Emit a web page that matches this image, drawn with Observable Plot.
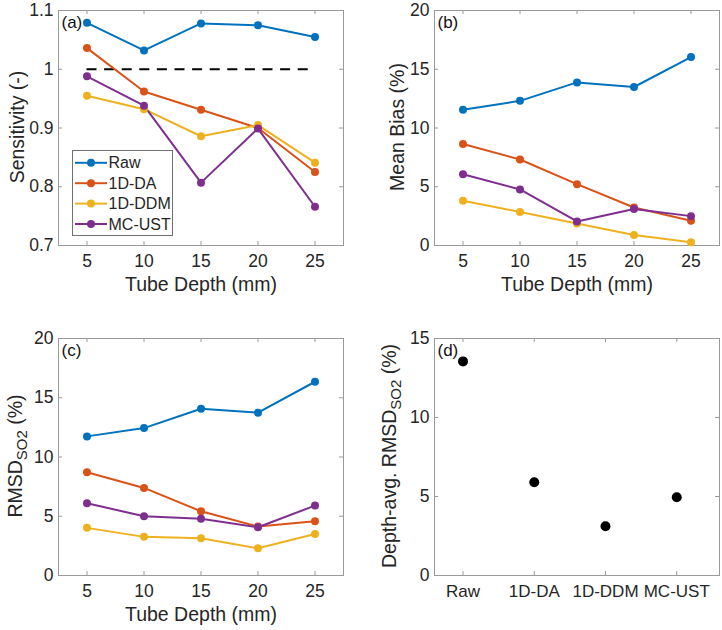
<!DOCTYPE html>
<html><head><meta charset="utf-8">
<script src="https://cdn.jsdelivr.net/npm/d3@7"></script>
<script src="https://cdn.jsdelivr.net/npm/@observablehq/plot@0.6"></script>
<style>
body{margin:0;background:#fff;}
#wrap{position:relative;width:722px;height:630px;background:#fff;}
#wrap > svg{position:absolute;overflow:visible;}
</style></head><body><div id="wrap"></div>
<script>
// ---------- data ----------
const depths = [5, 10, 15, 20, 25];
const methods = ["Raw", "1D-DA", "1D-DDM", "MC-UST"];
const colors = ["#0072BD", "#D95319", "#EDB120", "#7E2F8E"];

// (a) Sensitivity (-)
const sensRaw  = [1.079, 1.032, 1.078, 1.075, 1.055];
const sensDA   = [1.036, 0.962, 0.931, 0.900, 0.825];
const sensDDM  = [0.955, 0.932, 0.886, 0.905, 0.841];
const sensMC   = [0.988, 0.938, 0.807, 0.899, 0.766];
const sensRef  = [1];

// (b) Mean Bias (%)
const biasRaw  = [11.56, 12.31, 13.88, 13.49, 16.04];
const biasDA   = [8.64, 7.32, 5.22, 3.23, 2.10];
const biasDDM  = [3.81, 2.86, 1.88, 0.90, 0.28];
const biasMC   = [6.06, 4.77, 2.05, 3.11, 2.50];

// (c) RMSD SO2 (%)
const rmsdRaw  = [11.74, 12.44, 14.07, 13.74, 16.35];
const rmsdDA   = [8.71, 7.39, 5.42, 4.13, 4.58];
const rmsdDDM  = [4.02, 3.26, 3.15, 2.30, 3.51];
const rmsdMC   = [6.10, 5.00, 4.78, 4.07, 5.90];

// (d) Depth-avg. RMSD SO2 (%)
const avgRmsd  = [13.55, 5.90, 3.12, 4.95];

// tick values / labels
const depthTicks = [5, 10, 15, 20, 25];
const sensTicks = [0.7, 0.8, 0.9, 1, 1.1];
const sensTickLabels = ["0.7", "0.8", "0.9", "1", "1.1"];
const pctTicks20 = [0, 5, 10, 15, 20];
const pctTicks15 = [0, 5, 10, 15];
const methodTicks = [1, 2, 3, 4];

// ---------- helpers ----------
const FONT = "'Liberation Sans', Arial, Helvetica, sans-serif";
const TXT = "#262626";
const BOX = "#9a9a9a";
const TL = 4;
const W = 361, H = 315;
const TICKFS = 17.5;

function tidy(series) {
  const out = [];
  series.forEach((vals, i) => vals.forEach((v, j) => out.push({method: methods[i], depth: depths[j], value: v})));
  return out;
}

function boxTicks(xt, yt, fw, fh) {
  return [
    Plot.tickX(xt, {x: d => d, insetTop: fh - TL, stroke: BOX}),
    Plot.tickX(xt, {x: d => d, insetBottom: fh - TL, stroke: BOX}),
    Plot.tickY(yt, {y: d => d, insetRight: fw - TL, stroke: BOX}),
    Plot.tickY(yt, {y: d => d, insetLeft: fw - TL, stroke: BOX})
  ];
}

function addYLabel(svg, parts, cx, cy) {
  const t = d3.select(svg).append("text")
    .attr("transform", `translate(${cx},${cy}) rotate(-90)`)
    .attr("text-anchor", "middle")
    .attr("font-family", FONT)
    .attr("font-size", 19.5)
    .attr("fill", TXT)
    .attr("dy", "0.35em");
  let shifted = 0;
  parts.forEach(p => {
    const s = t.append("tspan").text(p.t);
    if (p.sub) { s.attr("font-size", 15).attr("dy", 5); shifted = 5; }
    else if (shifted) { s.attr("dy", -shifted); shifted = 0; }
  });
}

function linePanel({data, yDomain, yTicks, yTickFormat, ml, mr, mt, mb, tag, extra = []}) {
  const fw = W - ml - mr, fh = H - mt - mb;
  return Plot.plot({
    width: W, height: H,
    marginLeft: ml, marginRight: mr, marginTop: mt, marginBottom: mb,
    style: {fontFamily: FONT, fontSize: TICKFS + "px", color: TXT, background: "transparent", overflow: "visible"},
    x: {domain: [2.5, 27.5], label: null},
    y: {domain: yDomain, label: null},
    color: {domain: methods, range: colors},
    marks: [
      Plot.frame({stroke: BOX}),
      ...boxTicks(depthTicks, yTicks, fw, fh),
      Plot.axisX(depthTicks, {tickSize: 0, tickPadding: 9, label: null, fontSize: TICKFS, fill: TXT}),
      Plot.axisY(yTicks, {tickSize: 0, tickPadding: 5, label: null, fontSize: TICKFS, fill: TXT, tickFormat: yTickFormat}),
      ...extra,
      Plot.line(data, {x: "depth", y: "value", stroke: "method", strokeWidth: 2}),
      Plot.dot(data, {x: "depth", y: "value", fill: "method", r: 4}),
      Plot.text([tag], {frameAnchor: "top-left", dx: 3, dy: 12, textAnchor: "start", lineAnchor: "middle", fontSize: 17, fill: "#111"}),
      Plot.text(["Tube Depth (mm)"], {frameAnchor: "bottom", dy: 39, lineAnchor: "middle", fontSize: 19.5, fill: TXT})
    ]
  });
}

const wrap = document.getElementById("wrap");
function place(svg, left, top) {
  svg.style.left = left + "px";
  svg.style.top = top + "px";
  wrap.appendChild(svg);
  return svg;
}

// ---------- (a) ----------
const A = linePanel({
  data: tidy([sensRaw, sensDA, sensDDM, sensMC]),
  yDomain: [0.7, 1.1], yTicks: sensTicks,
  yTickFormat: d => sensTickLabels[sensTicks.indexOf(d)],
  ml: 58, mr: 18, mt: 10, mb: 70, tag: "(a)",
  extra: [Plot.ruleY(sensRef, {y: d => d, x1: depths[0], x2: depths[depths.length - 1], stroke: "#000", strokeWidth: 2, strokeDasharray: "10,7.6"})]
});
place(A, 0, 0);
addYLabel(A, [{t: "Sensitivity (-)"}], 17, 127);

// legend in (a)
{
  const g = d3.select(A).append("g").attr("font-family", FONT).attr("font-size", 16).attr("fill", TXT);
  g.append("rect").attr("x", 72.5).attr("y", 150.5).attr("width", 100).attr("height", 85)
    .attr("fill", "#fff").attr("stroke", "#707070");
  methods.forEach((m, i) => {
    const y = 162.8 + i * 20.4;
    g.append("line").attr("x1", 75).attr("x2", 107).attr("y1", y).attr("y2", y)
      .attr("stroke", colors[i]).attr("stroke-width", 2);
    g.append("circle").attr("cx", 91).attr("cy", y).attr("r", 4).attr("fill", colors[i]);
    g.append("text").attr("x", 108.5).attr("y", y).attr("dy", "0.35em")
      .attr("text-anchor", "start").text(m);
  });
}

// ---------- (b) ----------
const B = linePanel({
  data: tidy([biasRaw, biasDA, biasDDM, biasMC]),
  yDomain: [0, 20], yTicks: pctTicks20, yTickFormat: d => String(d),
  ml: 73, mr: 3, mt: 10, mb: 70, tag: "(b)"
});
place(B, 361, 0);
addYLabel(B, [{t: "Mean Bias (%)"}], 36, 127);

// ---------- (c) ----------
const C = linePanel({
  data: tidy([rmsdRaw, rmsdDA, rmsdDDM, rmsdMC]),
  yDomain: [0, 20], yTicks: pctTicks20, yTickFormat: d => String(d),
  ml: 58, mr: 18, mt: 23, mb: 55, tag: "(c)"
});
place(C, 0, 315);
addYLabel(C, [{t: "RMSD"}, {t: "SO2", sub: true}, {t: " (%)"}], 15, 141);

// ---------- (d) ----------
{
  const ml = 73, mr = 3, mt = 23, mb = 55;
  const fw = W - ml - mr, fh = H - mt - mb;
  const avgData = methods.map((m, i) => ({idx: i + 1, method: m, value: avgRmsd[i]}));
  const D = Plot.plot({
    width: W, height: H,
    marginLeft: ml, marginRight: mr, marginTop: mt, marginBottom: mb,
    style: {fontFamily: FONT, fontSize: TICKFS + "px", color: TXT, background: "transparent", overflow: "visible"},
    x: {domain: [0.6, 4.6], label: null},
    y: {domain: [0, 15], label: null},
    marks: [
      Plot.frame({stroke: BOX}),
      ...boxTicks(methodTicks, pctTicks15, fw, fh),
      Plot.axisX(methodTicks, {tickSize: 0, tickPadding: 9, label: null, fontSize: 17, fill: TXT, tickFormat: d => methods[d - 1]}),
      Plot.axisY(pctTicks15, {tickSize: 0, tickPadding: 5, label: null, fontSize: TICKFS, fill: TXT, tickFormat: d => String(d)}),
      Plot.dot(avgData, {x: "idx", y: "value", fill: "#000", r: 5}),
      Plot.text(["(d)"], {frameAnchor: "top-left", dx: 3, dy: 12, textAnchor: "start", lineAnchor: "middle", fontSize: 17, fill: "#111"})
    ]
  });
  place(D, 361, 315);
  addYLabel(D, [{t: "Depth-avg. RMSD"}, {t: "SO2", sub: true}, {t: " (%)"}], 28, 141);
}
</script>
</body></html>
